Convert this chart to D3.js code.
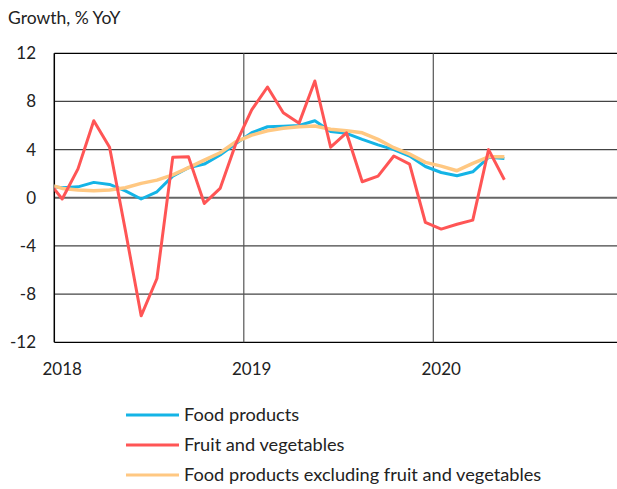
<!DOCTYPE html>
<html>
<head>
<meta charset="utf-8">
<script src="https://cdn.jsdelivr.net/npm/d3@7"></script>
<style>
  body { margin: 0; background: #fff; }
  text { font-family: Lato, "Noto Sans", sans-serif; fill: #222; }
</style>
</head>
<body>
<svg width="617" height="489"></svg>
<script>
// monthly data, Dec 2017 .. May 2020
var months = ["2017-12","2018-01","2018-02","2018-03","2018-04","2018-05","2018-06","2018-07","2018-08","2018-09",
              "2018-10","2018-11","2018-12","2019-01","2019-02","2019-03","2019-04","2019-05","2019-06","2019-07",
              "2019-08","2019-09","2019-10","2019-11","2019-12","2020-01","2020-02","2020-03","2020-04","2020-05"];
var foodProducts = [1.0, 0.83, 0.91, 1.28, 1.11, 0.58, -0.1, 0.5, 1.8, 2.5,
                    2.8, 3.55, 4.5, 5.4, 5.9, 5.95, 6.0, 6.4, 5.5, 5.35,
                    4.85, 4.4, 4.0, 3.47, 2.6, 2.1, 1.83, 2.16, 3.36, 3.27];
var fruitVeg = [1.55, -0.1, 2.4, 6.4, 4.2, -2.7, -9.8, -6.7, 3.36, 3.4,
                -0.47, 0.78, 4.5, 7.3, 9.2, 7.07, 6.2, 9.7, 4.2, 5.4,
                1.33, 1.8, 3.47, 2.8, -2.05, -2.6, -2.2, -1.85, 4.0, 1.5];
var foodExFV = [1.16, 0.78, 0.64, 0.58, 0.64, 0.83, 1.2, 1.47, 1.9, 2.5,
                3.13, 3.74, 4.65, 5.2, 5.57, 5.77, 5.9, 5.96, 5.7, 5.57,
                5.4, 4.85, 4.16, 3.63, 2.94, 2.63, 2.25, 2.86, 3.4, 3.4];
var yTicks = [-12, -8, -4, 0, 4, 8, 12];
var yearLabels = ["2018", "2019", "2020"];

var series = [
  {name: "Food products", values: foodProducts, color: "#14b4e6"},
  {name: "Food products excluding fruit and vegetables", values: foodExFV, color: "#ffc882"},
  {name: "Fruit and vegetables", values: fruitVeg, color: "#ff5555"}
];
var legendOrder = [series[0], series[2], series[1]];

var svg = d3.select("svg");

var plotLeft = 54.3, plotRight = 622.8, plotTop = 53.3, plotBottom = 342.3;

// month index counted from Jan 2018
function monthIndex(s) {
  var p = s.split("-");
  return (+p[0] - 2018) * 12 + (+p[1] - 1);
}

var x = d3.scaleLinear().domain([0, 36]).range([plotLeft, plotRight]);
var y = d3.scaleLinear().domain([-12, 12]).range([plotBottom, plotTop]);

svg.append("text")
   .attr("x", 8)
   .attr("y", 24)
   .attr("font-size", "17.5px")
   .text("Growth, % YoY");

// horizontal grid
svg.append("g")
   .selectAll("line")
   .data(yTicks)
   .enter()
   .append("line")
   .attr("x1", plotLeft)
   .attr("x2", 617)
   .attr("y1", function(d) { return y(d); })
   .attr("y2", function(d) { return y(d); })
   .attr("stroke", function(d) { return d == 0 ? "#666" : (d == 12 || d == -12 ? "#000" : "#444"); })
   .attr("stroke-width", function(d) { return d == 0 ? 2 : 1.2; });

// year separators
svg.append("g")
   .selectAll("line")
   .data([12, 24])
   .enter()
   .append("line")
   .attr("x1", function(d) { return x(d); })
   .attr("x2", function(d) { return x(d); })
   .attr("y1", plotTop)
   .attr("y2", plotBottom)
   .attr("stroke", "#555")
   .attr("stroke-width", 1.2);

svg.append("line")
   .attr("x1", plotLeft).attr("x2", plotLeft)
   .attr("y1", plotTop).attr("y2", plotBottom)
   .attr("stroke", "#000")
   .attr("stroke-width", 1.5);

// y labels
svg.append("g")
   .selectAll("text")
   .data(yTicks)
   .enter()
   .append("text")
   .attr("x", 36)
   .attr("y", function(d) { return y(d) + 6; })
   .attr("text-anchor", "end")
   .attr("font-size", "17px")
   .text(function(d) { return d; });

// x labels centred on January
svg.append("g")
   .selectAll("text")
   .data(yearLabels)
   .enter()
   .append("text")
   .attr("x", function(d, i) { return x(i * 12 + 0.5); })
   .attr("y", 375)
   .attr("text-anchor", "middle")
   .attr("font-size", "17px")
   .text(function(d) { return d; });

svg.append("clipPath")
   .attr("id", "plot")
   .append("rect")
   .attr("x", plotLeft).attr("y", 0)
   .attr("width", plotRight - plotLeft).attr("height", 489);

var line = d3.line()
    .x(function(d) { return x(monthIndex(d.m) + 0.5); })
    .y(function(d) { return y(d.v); });

svg.append("g")
   .attr("clip-path", "url(#plot)")
   .selectAll("path")
   .data(series)
   .enter()
   .append("path")
   .attr("fill", "none")
   .attr("stroke", function(d) { return d.color; })
   .attr("stroke-width", function(d) { return d.values === foodExFV ? 3.5 : 3; })
   .attr("stroke-linejoin", "round")
   .attr("d", function(s) {
     return line(months.map(function(m, i) { return {m: m, v: s.values[i]}; }));
   });

// legend
var lg = svg.append("g")
   .selectAll("g")
   .data(legendOrder)
   .enter()
   .append("g")
   .attr("transform", function(d, i) { return "translate(126," + (415 + i * 30) + ")"; });

lg.append("line")
  .attr("x1", 0).attr("x2", 53)
  .attr("stroke", function(d) { return d.color; })
  .attr("stroke-width", 3);

lg.append("text")
  .attr("x", 58)
  .attr("y", 6)
  .attr("font-size", "18.2px")
  .text(function(d) { return d.name; });
</script>
</body>
</html>
